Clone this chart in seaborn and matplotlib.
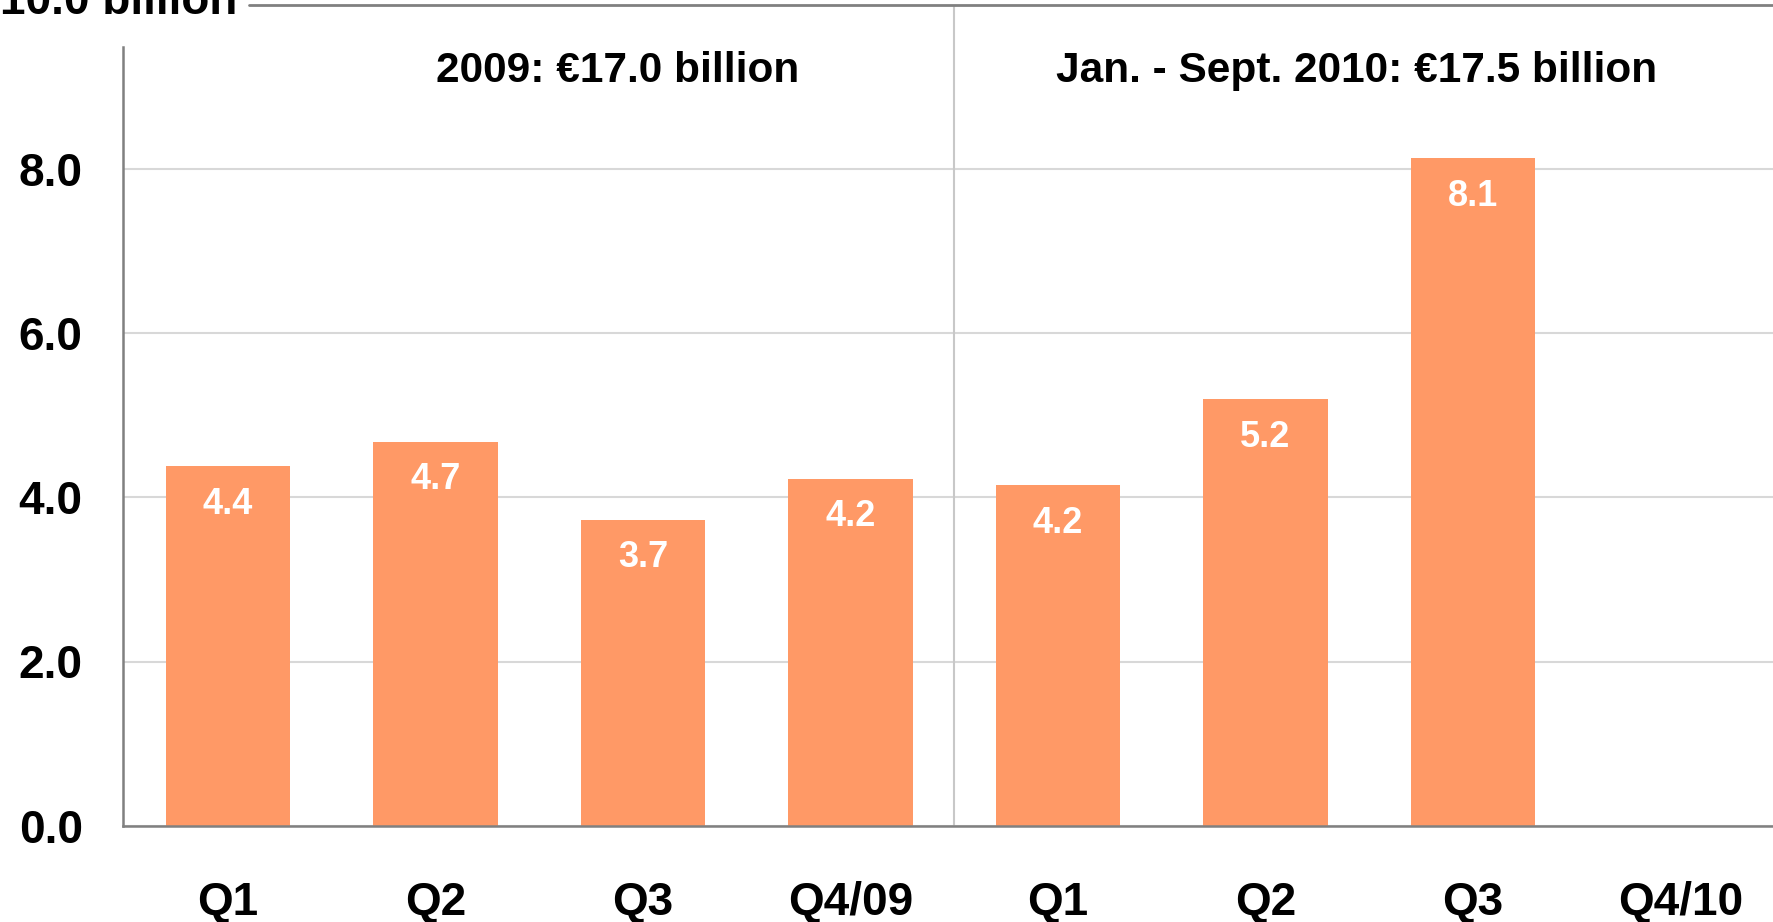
import matplotlib.pyplot as plt
import numpy as np
import pandas as pd
import seaborn as sns

# quarterly values (EUR billion), Q4/10 not yet reported
periods = ["Q1 2009", "Q2 2009", "Q3 2009", "Q4 2009",
           "Q1 2010", "Q2 2010", "Q3 2010", "Q4 2010"]
tick_labels = ["Q1", "Q2", "Q3", "Q4/09", "Q1", "Q2", "Q3", "Q4/10"]
values = [4.38, 4.68, 3.73, 4.23, 4.15, 5.20, 8.14, np.nan]
value_labels = ["4.4", "4.7", "3.7", "4.2", "4.2", "5.2", "8.1", ""]
y_ticks = [0, 2, 4, 6, 8]
y_tick_labels = ["0.0", "2.0", "4.0", "6.0", "8.0"]
top_label = "10.0 billion"
section_titles = ["2009: €17.0 billion", "Jan. - Sept. 2010: €17.5 billion"]

sns.set_style("white")
plt.rcParams["font.family"] = ["Liberation Sans", "DejaVu Sans"]
plt.rcParams["font.weight"] = "bold"
plt.rcParams["text.color"] = "black"
plt.rcParams["xtick.color"] = "black"
plt.rcParams["ytick.color"] = "black"

W, H = 1773, 922
fig = plt.figure(figsize=(W / 100, H / 100), dpi=100)
ax = fig.add_axes([123 / W, 96.5 / H, (1784 - 123) / W, 820 / H])

df = pd.DataFrame({"period": periods, "value": values})
sns.barplot(data=df, x="period", y="value", order=periods, color="#FF9966",
            saturation=1, width=0.6, linewidth=0, ax=ax, zorder=2)

ax.set_xlim(-0.506, 7.5)
ax.set_ylim(0, 10)
ax.set_xlabel("")
ax.set_ylabel("")
ax.set_xticks(range(len(periods)))
ax.set_xticklabels(tick_labels, fontsize=33, fontweight="bold", color="black")
ax.set_yticks(y_ticks)
ax.set_yticklabels(y_tick_labels, fontsize=33, fontweight="bold", color="black")
ax.tick_params(axis="x", length=0, pad=40)
ax.tick_params(axis="y", length=0, pad=29)

ax.set_axisbelow(True)
ax.yaxis.grid(True, color="#d8d8d8", linewidth=1.5)
ax.xaxis.grid(False)

for side in ["top", "right"]:
    ax.spines[side].set_visible(False)
for side in ["left", "bottom"]:
    ax.spines[side].set_color("#808080")
    ax.spines[side].set_linewidth(1.8)
ax.spines["left"].set_bounds(0, 9.49)

# top reference line and its label
ax.axhline(10, xmin=(249 - 123) / (1784 - 123), color="#808080", lw=2, clip_on=False)
fig.text(237 / W, (H - 13.6) / H, top_label, ha="right", va="baseline",
         fontsize=33, fontweight="bold", color="black")

# divider between years
ax.axvline(3.5, color="#c8c8c8", lw=1.5, zorder=1)

ax.text(1.876, 9.2, section_titles[0], ha="center", va="center",
        fontsize=30.5, fontweight="bold", color="black")
ax.text(5.44, 9.2, section_titles[1], ha="center", va="center",
        fontsize=30.5, fontweight="bold", color="black")

for i, (v, lab) in enumerate(zip(values, value_labels)):
    if lab:
        ax.annotate(lab, (i, v), xytext=(0, -27.5), textcoords="offset points",
                    ha="center", va="center", color="white",
                    fontsize=26, fontweight="bold", zorder=3)

fig.savefig("out.png", dpi=100)
